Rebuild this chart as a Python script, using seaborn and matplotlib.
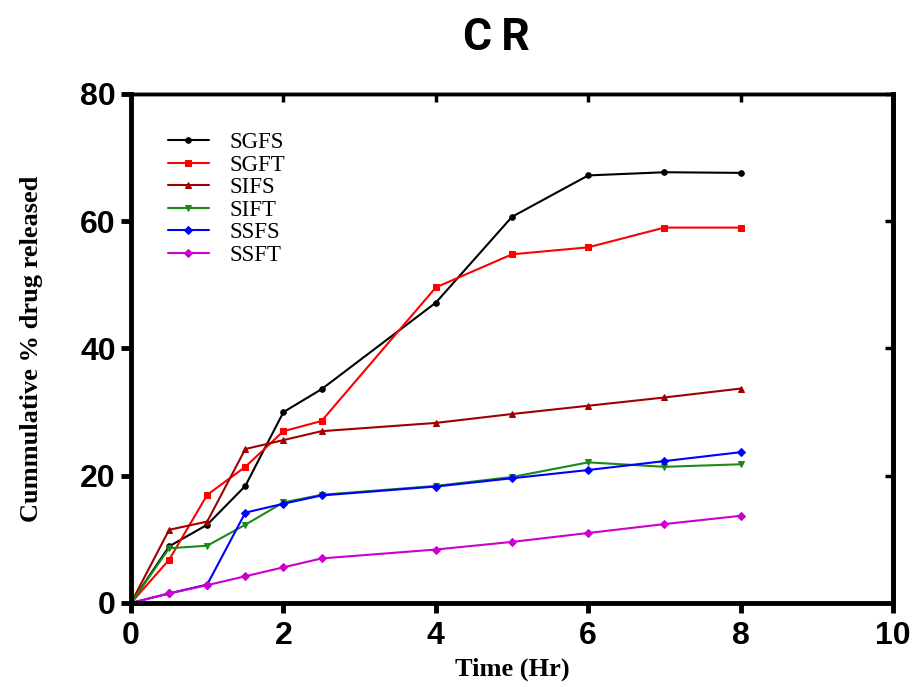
import seaborn as sns
import pandas as pd
import matplotlib.pyplot as plt

time_hr = [0, 0.5, 1, 1.5, 2, 2.5, 4, 5, 6, 7, 8]
sgfs = [0, 8.9, 12.3, 18.4, 30.0, 33.6, 47.2, 60.7, 67.2, 67.7, 67.6]
sgft = [0, 6.8, 17.0, 21.4, 27.0, 28.6, 49.6, 54.8, 55.9, 59.0, 59.0]
sifs = [0, 11.5, 12.8, 24.2, 25.6, 27.0, 28.3, 29.7, 31.0, 32.3, 33.7]
sift = [0, 8.6, 9.0, 12.3, 15.8, 17.0, 18.4, 19.8, 22.1, 21.4, 21.8]
ssfs = [0, 1.5, 2.9, 14.2, 15.6, 16.9, 18.3, 19.6, 20.9, 22.3, 23.7]
ssft = [0, 1.5, 2.8, 4.2, 5.6, 7.0, 8.4, 9.6, 11.0, 12.4, 13.7]

series = ["SGFS", "SGFT", "SIFS", "SIFT", "SSFS", "SSFT"]
values = [sgfs, sgft, sifs, sift, ssfs, ssft]
colors = ["#000000", "#ff0000", "#a00000", "#1a8a1a", "#0000ff", "#cc00cc"]
markers = ["o", "s", "^", "v", "D", "D"]
xticks = [0, 2, 4, 6, 8, 10]
yticks = [0, 20, 40, 60, 80]

sns.set_theme(style="ticks", rc={"axes.edgecolor": "black",
                                 "xtick.color": "black", "ytick.color": "black",
                                 "text.color": "black", "axes.labelcolor": "black"})
f = plt.figure(figsize=[9.15, 6.87], dpi=100)
ax = f.add_axes([0.1432, 0.1223, 0.976 - 0.1432, 0.8632 - 0.1223])

for name, vals, c, m in zip(series, values, colors, markers):
    df = pd.DataFrame({"time": time_hr, "val": vals})
    sns.lineplot(x="time", y="val", data=df, color=c, marker=m, markersize=4,
                 markeredgecolor=c, linewidth=1.5, label=name, ax=ax)

ax.set_xlim(0, 10)
ax.set_ylim(0, 80)
ax.set_xticks(xticks)
ax.set_yticks(yticks)

for s in ["left", "bottom", "right"]:
    ax.spines[s].set_linewidth(3.5)
ax.spines["top"].set_visible(True)
ax.spines["right"].set_visible(True)
ax.spines["top"].set_linewidth(2.5)
ax.tick_params(axis="both", direction="out", length=7, width=3.5)

# inward ticks on top and right
top = ax.secondary_xaxis("top")
top.set_xticks(xticks)
top.tick_params(direction="in", length=6, width=2.5, labeltop=False)
top.spines["top"].set_linewidth(2.5)
right = ax.secondary_yaxis("right")
right.set_yticks(yticks)
right.tick_params(direction="in", length=6, width=2.5, labelright=False)
right.spines["right"].set_linewidth(3.5)

for lab in ax.get_xticklabels() + ax.get_yticklabels():
    lab.set_fontfamily("Liberation Sans")
    lab.set_fontweight("bold")
    lab.set_fontsize(23)
ax.tick_params(axis="x", pad=6)
ax.tick_params(axis="y", pad=4)

ax.set_xlabel("Time (Hr)", fontfamily="Liberation Serif", fontweight="bold",
              fontsize=19, labelpad=5)
ax.set_ylabel("Cummulative % drug released", fontfamily="Liberation Serif",
              fontweight="bold", fontsize=19, labelpad=27)
f.suptitle("C\u2009R", x=0.543, y=0.975, fontfamily=["Roboto", "DejaVu Sans"],
           fontweight="bold", fontsize=32)

leg = ax.legend(loc="upper left", bbox_to_anchor=(0.021, 0.965), frameon=False,
                prop={"family": "Liberation Serif", "size": 16.5},
                handlelength=1.8, handletextpad=0.9, labelspacing=0.06)

f.savefig("out.png", dpi=100)
